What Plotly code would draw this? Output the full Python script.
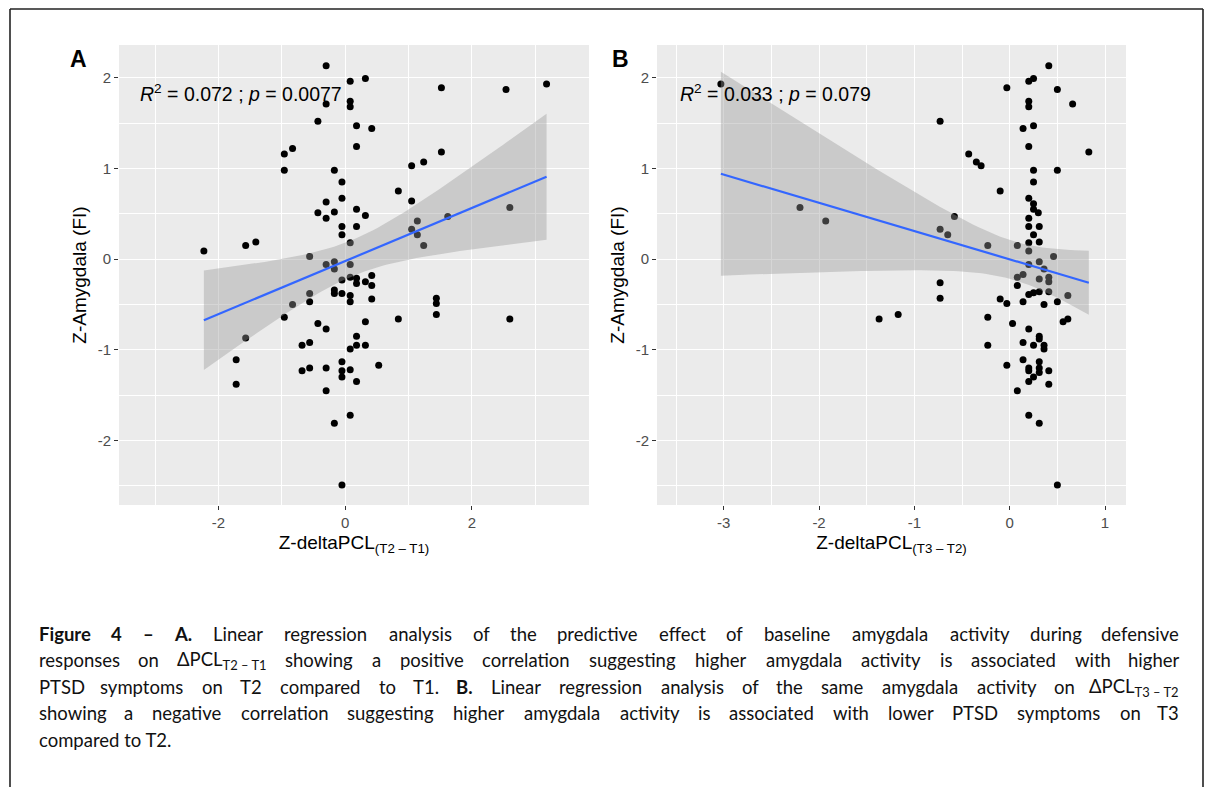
import re
import numpy as np
import plotly.graph_objects as go

# ---------------- data ----------------
# Panel A: Z-deltaPCL(T2-T1) vs Z-Amygdala (FI)
a_x = [-2.23, -1.57, -1.41, -0.96, -0.83, -0.96, -0.30, -0.30, -0.43, -0.17,
       -0.05, -0.05, -0.30, -0.43, -0.30, -0.17, -0.05, -0.05, 0.08, 0.08,
       0.08, 0.08, 0.18, 0.18, 0.18, 0.18, -0.56, -0.30, -0.17, -0.17,
       0.08, 0.32, 0.42, 1.52, 2.54, 3.18, 0.32, 1.52, 1.05, 1.24,
       0.84, 1.05, 1.62, 1.14, 1.05, 1.14, 1.24, 2.60, -0.05, 0.08,
       0.18, 0.18, 0.32, 0.42, 0.42, -0.56, -0.56, -0.83, -0.17, -0.17,
       -0.05, 0.08, 0.08, 0.42, -0.96, -0.43, -0.30, 0.32, 0.84, 1.44,
       1.44, 1.44, 2.60, 0.18, 0.18, 0.32, 0.08, -1.57, -0.68, -0.56,
       -1.72, -1.72, -0.68, -0.56, -0.30, -0.05, -0.05, -0.05, 0.08, 0.18,
       0.53, -0.30, 0.08, -0.17, -0.05]
a_y = [0.09, 0.15, 0.19, 1.16, 1.22, 0.98, 2.13, 1.71, 1.52, 0.98,
       0.85, 0.67, 0.63, 0.51, 0.45, 0.52, 0.36, 0.27, 0.18, 1.96,
       1.74, 1.68, 1.47, 1.24, 0.55, 0.36, 0.03, -0.06, -0.03, -0.11,
       -0.06, 1.99, 1.44, 1.89, 1.87, 1.93, 0.48, 1.18, 1.03, 1.07,
       0.75, 0.64, 0.47, 0.42, 0.33, 0.27, 0.15, 0.57, -0.23, -0.20,
       -0.21, -0.27, -0.25, -0.18, -0.29, -0.38, -0.47, -0.50, -0.34, -0.38,
       -0.38, -0.40, -0.47, -0.44, -0.64, -0.71, -0.77, -0.69, -0.66, -0.43,
       -0.49, -0.61, -0.66, -0.85, -0.95, -0.95, -0.99, -0.87, -0.95, -0.92,
       -1.11, -1.38, -1.23, -1.20, -1.20, -1.13, -1.23, -1.30, -1.22, -1.35,
       -1.17, -1.45, -1.72, -1.81, -2.49]

# Panel B: Z-deltaPCL(T3-T2) vs Z-Amygdala (FI)
b_x = [-3.03, -2.20, -1.93, 0.41, 0.20, 0.25, -0.03, 0.50, 0.66, 0.20,
       0.20, -0.73, 0.14, 0.25, 0.20, 0.83, -0.43, -0.35, -0.30, 0.25,
       0.50, 0.25, -0.10, 0.20, 0.25, 0.25, 0.30, 0.20, -0.58, -0.73,
       -0.65, 0.20, 0.31, 0.25, 0.31, 0.20, -0.23, 0.08, 0.20, 0.46,
       0.31, 0.20, 0.36, 0.08, 0.14, 0.31, 0.41, 0.41, 0.08, 0.41,
       -0.73, -0.73, 0.20, 0.25, 0.31, -0.10, -0.03, 0.14, 0.36, 0.50,
       0.61, -1.37, -1.17, -0.23, 0.03, 0.56, 0.61, 0.20, 0.31, 0.31,
       0.14, 0.25, 0.36, 0.36, -0.23, 0.14, -0.03, 0.20, 0.20, 0.31,
       0.31, 0.31, 0.41, 0.25, 0.20, 0.41, 0.08, 0.20, 0.31, 0.50]
b_y = [1.93, 0.57, 0.42, 2.13, 1.96, 1.99, 1.89, 1.87, 1.71, 1.74,
       1.68, 1.52, 1.44, 1.47, 1.24, 1.18, 1.16, 1.07, 1.03, 0.98,
       0.98, 0.85, 0.75, 0.67, 0.61, 0.55, 0.51, 0.45, 0.47, 0.33,
       0.27, 0.36, 0.36, 0.27, 0.19, 0.18, 0.15, 0.15, 0.09, 0.03,
       -0.03, -0.06, -0.11, -0.20, -0.17, -0.22, -0.20, -0.25, -0.29, -0.36,
       -0.26, -0.43, -0.39, -0.37, -0.36, -0.44, -0.49, -0.47, -0.50, -0.47,
       -0.40, -0.66, -0.61, -0.64, -0.71, -0.69, -0.66, -0.77, -0.85, -0.88,
       -0.92, -0.95, -0.95, -0.99, -0.95, -1.11, -1.17, -1.20, -1.23, -1.13,
       -1.20, -1.25, -1.23, -1.30, -1.35, -1.38, -1.45, -1.72, -1.81, -2.49]

a_xticks = [-2, 0, 2]
a_xminor = [-3, -1, 1, 3]
b_xticks = [-3, -2, -1, 0, 1]
b_xminor = [-3.5, -2.5, -1.5, -0.5, 0.5]
y_ticks = [-2, -1, 0, 1, 2]
y_minor = [-2.5, -1.5, -0.5, 0.5, 1.5]

a_stat = "<i>R</i><sup>2</sup> = 0.072 ; <i>p</i> = 0.0077"
b_stat = "<i>R</i><sup>2</sup> = 0.033 ; <i>p</i> = 0.079"
y_title = "Z-Amygdala (FI)"
a_xtitle = "Z-deltaPCL<sub>(T2 \u2013 T1)</sub>"
b_xtitle = "Z-deltaPCL<sub>(T3 \u2013 T2)</sub>"

caption_lines = [
    ["<b>Figure</b>", "<b>4</b>", "<b>\u2013</b>", "<b>A.</b>", "Linear", "regression", "analysis",
     "of", "the", "predictive", "effect", "of", "baseline", "amygdala", "activity", "during",
     "defensive"],
    ["responses", "on", "\u0394PCL<sub>T2 \u2013 T1</sub>", "showing", "a", "positive", "correlation",
     "suggesting", "higher", "amygdala", "activity", "is", "associated", "with", "higher"],
    ["PTSD", "symptoms", "on", "T2", "compared", "to", "T1.", "<b>B.</b>", "Linear", "regression",
     "analysis", "of", "the", "same", "amygdala", "activity", "on", "\u0394PCL<sub>T3 \u2013 T2</sub>"],
    ["showing", "a", "negative", "correlation", "suggesting", "higher", "amygdala", "activity",
     "is", "associated", "with", "lower", "PTSD", "symptoms", "on", "T3"],
]
caption_last = "compared to T2."

# ---------------- layout constants ----------------
W, H = 1208, 787
GG_FONT = "Liberation Sans, Arial, sans-serif"
CAP_FONT = "Lato, sans-serif"
CAP_SIZE = 18.5


def px_x(v):
    return v / W


def px_y(v):
    return 1 - v / H


def lm_band(x, y, n_pts=80, t_crit=1.986):
    x = np.asarray(x, float)
    y = np.asarray(y, float)
    n = len(x)
    slope, intercept = np.polyfit(x, y, 1)
    resid = y - (slope * x + intercept)
    s = np.sqrt(np.sum(resid ** 2) / (n - 2))
    xm = x.mean()
    sxx = np.sum((x - xm) ** 2)
    xs = np.linspace(x.min(), x.max(), n_pts)
    fit = slope * xs + intercept
    se = s * np.sqrt(1.0 / n + (xs - xm) ** 2 / sxx)
    return xs, fit, fit - t_crit * se, fit + t_crit * se


fig = go.Figure()

panels = [
    ("x", "y", a_x, a_y),
    ("x2", "y2", b_x, b_y),
]
for xa, ya, xs_, ys_ in panels:
    fig.add_trace(go.Scatter(x=xs_, y=ys_, mode="markers", xaxis=xa, yaxis=ya,
                             marker=dict(size=7, color="black", line=dict(width=0)),
                             showlegend=False, hoverinfo="skip"))
    gx, gfit, glo, ghi = lm_band(xs_, ys_)
    fig.add_trace(go.Scatter(x=np.concatenate([gx, gx[::-1]]),
                             y=np.concatenate([ghi, glo[::-1]]),
                             mode="lines", fill="toself", xaxis=xa, yaxis=ya,
                             fillcolor="rgba(153,153,153,0.4)", line=dict(width=0),
                             showlegend=False, hoverinfo="skip"))
    fig.add_trace(go.Scatter(x=gx, y=gfit, mode="lines", xaxis=xa, yaxis=ya,
                             line=dict(color="#3366FF", width=2.2),
                             showlegend=False, hoverinfo="skip"))


def xaxis_cfg(dom, rng, ticks, minor, title):
    return dict(domain=dom, range=rng, tickmode="array", tickvals=ticks,
                ticktext=[str(t) for t in ticks],
                ticks="outside", ticklen=4, tickwidth=1.1, tickcolor="#333333",
                tickfont=dict(family=GG_FONT, size=15, color="#4D4D4D"),
                showgrid=True, gridcolor="white", gridwidth=1.2,
                minor=dict(tickvals=minor, showgrid=True, gridcolor="white", gridwidth=0.6),
                zeroline=False, showline=False, automargin=False,
                title=dict(text=title, font=dict(family=GG_FONT, size=19, color="black"),
                           standoff=5))


def yaxis_cfg(dom, anchor):
    return dict(domain=dom, range=[-2.71, 2.36], anchor=anchor, tickmode="array",
                tickvals=y_ticks, ticktext=[str(t) for t in y_ticks],
                ticks="outside", ticklen=4, tickwidth=1.1, tickcolor="#333333",
                tickfont=dict(family=GG_FONT, size=15, color="#4D4D4D"),
                showgrid=True, gridcolor="white", gridwidth=1.2,
                minor=dict(tickvals=y_minor, showgrid=True, gridcolor="white", gridwidth=0.6),
                zeroline=False, showline=False, automargin=False,
                title=dict(text=y_title, font=dict(family=GG_FONT, size=19, color="black"),
                           standoff=6))


ydom = [px_y(505), px_y(45)]
fig.update_layout(
    width=W, height=H,
    margin=dict(l=0, r=0, t=0, b=0),
    paper_bgcolor="white", plot_bgcolor="#EBEBEB",
    xaxis=dict(xaxis_cfg([px_x(119), px_x(589)], [-3.57, 3.85], a_xticks, a_xminor, a_xtitle),
               anchor="y"),
    yaxis=yaxis_cfg(ydom, "x"),
    xaxis2=dict(xaxis_cfg([px_x(657), px_x(1126)], [-3.70, 1.22], b_xticks, b_xminor, b_xtitle),
                anchor="y2"),
    yaxis2=yaxis_cfg(ydom, "x2"),
    showlegend=False,
)

annotations = []
annotations.append(dict(text=a_stat, x=-3.27, y=1.83, xref="x", yref="y",
                        xanchor="left", yanchor="middle", showarrow=False,
                        font=dict(family=GG_FONT, size=19.5, color="black")))
annotations.append(dict(text=b_stat, x=-3.48, y=1.83, xref="x2", yref="y2",
                        xanchor="left", yanchor="middle", showarrow=False,
                        font=dict(family=GG_FONT, size=19.5, color="black")))
for lab, xp in (("A", 78), ("B", 620)):
    annotations.append(dict(text="<b>%s</b>" % lab, x=px_x(xp), y=px_y(59), xref="paper",
                            yref="paper", xanchor="center", yanchor="middle", showarrow=False,
                            font=dict(family=GG_FONT, size=23, color="black")))

# ---------------- caption (justified by word placement) ----------------
# approximate advance widths (em) of the caption font, used only for justification
EM = {
    "a": .52, "b": .57, "c": .47, "d": .57, "e": .53, "f": .33, "g": .51, "h": .57,
    "i": .24, "j": .24, "k": .51, "l": .24, "m": .86, "n": .57, "o": .57, "p": .57,
    "q": .57, "r": .37, "s": .43, "t": .35, "u": .57, "v": .51, "w": .78, "x": .49,
    "y": .51, "z": .46, "A": .67, "B": .63, "C": .66, "D": .74, "F": .53, "L": .50,
    "P": .60, "S": .53, "T": .57, "I": .28, ".": .23, " ": .25, "\u2013": .58,
    "\u0394": .68,
}


def word_width(w, size):
    total = 0.0
    sub = False
    for part in re.split(r"(<[^>]+>)", w):
        if part.startswith("<"):
            if part == "<sub>":
                sub = True
            elif part == "</sub>":
                sub = False
            continue
        for ch in part:
            e = EM.get(ch, 0.58 if ch.isdigit() else 0.62)
            total += e * (0.7 if sub else 1.0)
    if "<b>" in w:
        total *= 1.05
    return total * size


CAP_L, CAP_R = 37, 1181
cap_ys = [634, 660, 687, 713]
for words, yy in zip(caption_lines, cap_ys):
    ws = [word_width(w, CAP_SIZE) for w in words]
    gap = (CAP_R - CAP_L - sum(ws)) / (len(words) - 1)
    x_left = CAP_L
    for i, (w, wd) in enumerate(zip(words, ws)):
        if i == len(words) - 1:
            xx, anc = CAP_R, "right"
        else:
            xx, anc = x_left + wd / 2, "center"
        if i == 0:
            xx, anc = CAP_L, "left"
        annotations.append(dict(text=w, x=px_x(xx), y=px_y(yy), xref="paper", yref="paper",
                                xanchor=anc, yanchor="middle", showarrow=False,
                                font=dict(family=CAP_FONT, size=CAP_SIZE, color="#111111")))
        x_left += wd + gap
annotations.append(dict(text=caption_last, x=px_x(CAP_L), y=px_y(740), xref="paper",
                        yref="paper", xanchor="left", yanchor="middle", showarrow=False,
                        font=dict(family=CAP_FONT, size=CAP_SIZE, color="#111111")))

fig.update_layout(annotations=annotations)

# outer frame of the figure box
frame = dict(type="line", xref="paper", yref="paper", line=dict(color="#222222", width=1.6))
fig.update_layout(shapes=[
    dict(frame, x0=px_x(10), x1=px_x(1203), y0=px_y(9), y1=px_y(9)),
    dict(frame, x0=px_x(10), x1=px_x(10), y0=px_y(9), y1=px_y(787)),
    dict(frame, x0=px_x(1203), x1=px_x(1203), y0=px_y(9), y1=px_y(787)),
])

fig.write_html("out.html", config={"displayModeBar": False},
               post_script="document.body.style.margin='0';document.body.style.overflow='hidden';")
